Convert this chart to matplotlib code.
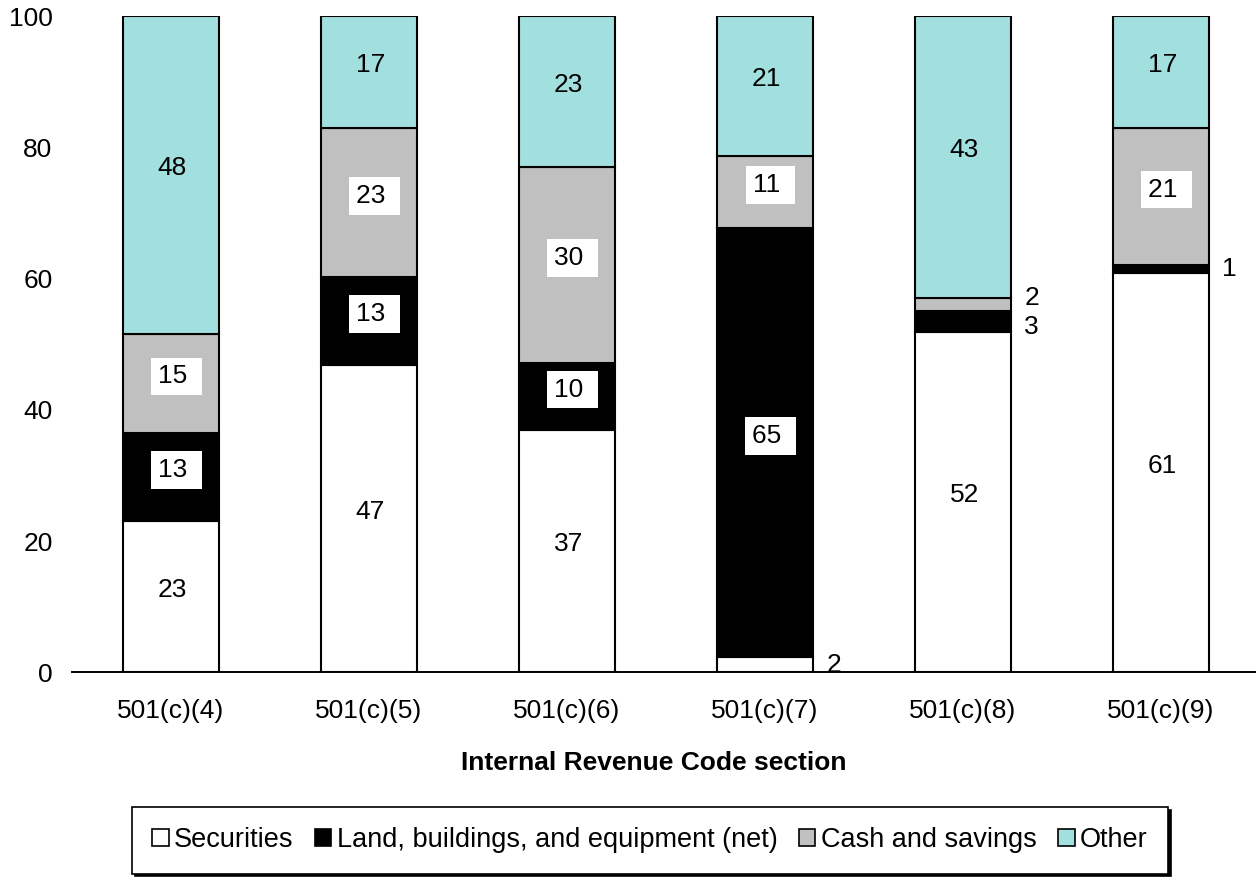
import matplotlib
matplotlib.use("Agg")
import matplotlib.pyplot as plt
from matplotlib.patches import Patch

plt.rcParams['font.family'] = ['Liberation Sans', 'DejaVu Sans']

# asset composition by IRC section, percent of total assets
sections = ['501(c)(4)', '501(c)(5)', '501(c)(6)', '501(c)(7)', '501(c)(8)', '501(c)(9)']
securities = [23.1, 46.8, 36.9, 2.3, 51.9, 60.9]
land = [13.4, 13.4, 10.3, 65.4, 3.2, 1.2]
cash = [15.1, 22.7, 29.8, 11.0, 1.9, 20.8]
other = [48.4, 17.1, 23.0, 21.3, 43.0, 17.1]

series = [
    ('Securities', securities, 'white', False),
    ('Land, buildings, and equipment (net)', land, 'black', True),
    ('Cash and savings', cash, '#c0c0c0', True),
    ('Other', other, '#a2e0e0', False),
]

# small segments get their label beside the bar; a few need a vertical nudge
outside_min = 4
nudge = {(4, 1): -4, (4, 2): 5}

fig = plt.figure(figsize=(12.56, 8.8), dpi=100)
ax = fig.add_axes([72 / 1256, 0.2358, 1188 / 1256, 0.746])

x = list(range(len(sections)))
width = 0.48
bottom = [0.0] * len(sections)
for k, (name, vals, color, boxed) in enumerate(series):
    ax.bar(x, vals, width, bottom=bottom, color=color, edgecolor='black',
           linewidth=1.5, label=name)
    for i, v in enumerate(vals):
        mid = bottom[i] + v / 2
        if v < outside_min:
            ax.annotate(f'{v:.0f}', xy=(i + width / 2, mid),
                        xytext=(10, nudge.get((i, k), 0)), textcoords='offset points',
                        ha='left', va='center', fontsize=19)
        elif boxed:
            ax.annotate(f'{v:.0f} ', xy=(i, mid), xytext=(4, 5),
                        textcoords='offset points', ha='center', va='center',
                        fontsize=19,
                        bbox=dict(boxstyle='square,pad=0.26', fc='white', ec='none'))
        else:
            ax.annotate(f'{v:.0f}', xy=(i, mid), xytext=(1, 5),
                        textcoords='offset points', ha='center', va='center',
                        fontsize=19)
    bottom = [b + v for b, v in zip(bottom, vals)]

ax.set_xlim(-0.5, len(sections) - 0.5)
ax.set_ylim(0, 100)
ax.set_yticks([0, 20, 40, 60, 80, 100])
ax.set_xticks(x)
ax.set_xticklabels(sections)
ax.tick_params(axis='y', length=0, pad=14, labelsize=19)
ax.tick_params(axis='x', length=0, pad=19, labelsize=19)
for side in ['top', 'right', 'left']:
    ax.spines[side].set_visible(False)
ax.spines['bottom'].set_linewidth(1.4)

ax.set_xlabel('Internal Revenue Code section', fontsize=19, fontweight='bold')
ax.xaxis.set_label_coords((654 - 72) / 1188, -0.119)

handles = [Patch(facecolor=c, edgecolor='black', linewidth=1.2, label=n)
           for n, _, c, _ in series]
leg = fig.legend(handles=handles, loc='center', bbox_to_anchor=(650 / 1256, 0.045),
                 bbox_transform=fig.transFigure, ncol=4, fontsize=19.5,
                 frameon=True, fancybox=False, shadow={'color': 'black', 'alpha': 1},
                 handlelength=0.6, handleheight=0.6, handletextpad=0.2,
                 columnspacing=0.8, borderpad=0.75)
leg.get_frame().set_edgecolor('black')
leg.get_frame().set_linewidth(1.2)

fig.savefig('out.png', dpi=100)
